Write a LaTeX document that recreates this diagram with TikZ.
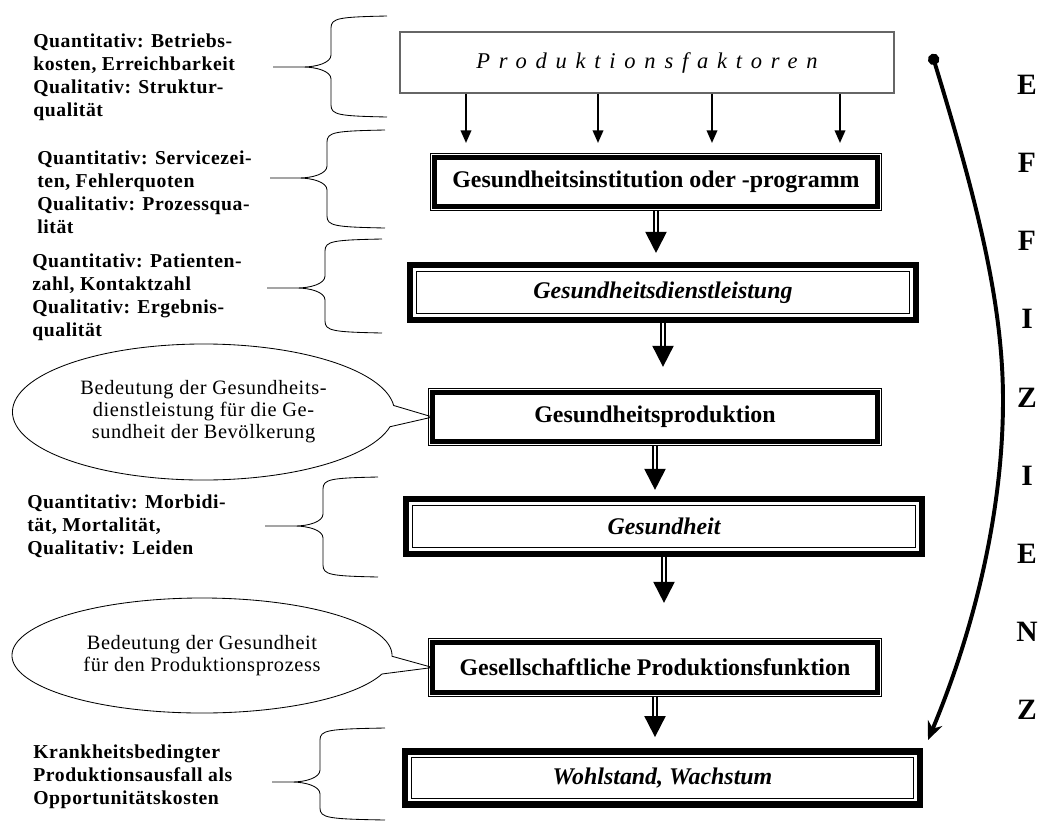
\documentclass[tikz,border=0pt]{standalone}
\usepackage{fontspec}
\setmainfont{Liberation Serif}
\newfontfamily\gesperrt[LetterSpace=39]{Liberation Serif}
\newfontfamily\linksschrift[LetterSpace=3]{Liberation Serif}
\usepackage{tikz}
\usetikzlibrary{arrows.meta,shapes.callouts,positioning}

\begin{document}
\begin{tikzpicture}[
    x=0.025cm, y=-0.025cm,
    faktor/.style={draw=black!60, line width=0.9pt, fill=white, inner sep=0pt,
        minimum width=12.35cm, minimum height=1.525cm,
        font=\gesperrt\itshape\fontsize{16}{18}\selectfont},
    stufe/.style={draw, line width=3.5pt, fill=white, inner sep=0pt, outer sep=0pt,
        preaction={draw, line width=6.6pt},
        preaction={draw=white, line width=5.2pt},
        font=\bfseries\fontsize{17}{19}\selectfont},
    ergebnis/.style={fill=white, inner sep=0pt, outer sep=0pt,
        preaction={draw, line width=11pt},
        postaction={draw, line width=3.8pt},
        postaction={draw=white, line width=1.8pt},
        font=\bfseries\itshape\fontsize{17}{19}\selectfont},
    kennzahl/.style={anchor=west, align=left, inner sep=0pt,
        font=\linksschrift\bfseries\fontsize{14}{16.4}\selectfont},
    erlaeuterung/.style={ellipse callout, draw, line width=0.6pt, align=center,
        inner sep=0pt, callout pointer arc=18,
        font=\linksschrift\fontsize{14.5}{15.6}\selectfont},
    klammer/.style={line width=0.6pt},
    einzelpfeil/.style={line width=1.4pt, -{Triangle[width=7.5pt,length=9pt]}},
    doppelpfeil/.style={double, double distance=1.5pt, line width=1.4pt,
        -{Triangle[width=15pt,length=15pt]}},
    bogen/.style={line width=2.8pt, {Circle[length=8pt]}-{Stealth[length=13pt,width=11pt]}},
    buchstabe/.style={font=\bfseries\fontsize{21}{23}\selectfont}
  ]

  \path[use as bounding box, fill=white] (0,0) rectangle (1040,823);

  % Kette der Stufen
  \node[faktor] (fak) at (647,62.5) {Produktionsfaktoren};
  \node[stufe, minimum width=11.07cm, minimum height=1.22cm] (inst) at (656,182) {Gesundheitsinstitution oder -programm};
  \node[ergebnis, minimum width=12.41cm, minimum height=1.14cm] (leist) at (663,292.5) {Gesundheitsdienstleistung};
  \node[stufe, minimum width=11.12cm, minimum height=1.22cm] (gprod) at (655,417) {Gesundheitsproduktion};
  \node[ergebnis, minimum width=12.66cm, minimum height=1.14cm] (gesund) at (664,526.5) {Gesundheit};
  \node[stufe, minimum width=11.12cm, minimum height=1.24cm] (gpf) at (655,667.5) {Gesellschaftliche Produktionsfunktion};
  \node[ergebnis, minimum width=12.64cm, minimum height=1.11cm] (wohl) at (662.5,778) {Wohlstand, Wachstum};

  % Pfeile
  \foreach \x in {466,598,712,840}
    \draw[einzelpfeil, shorten >=10.4pt] (\x,0 |- fak.south) -- (\x,0 |- inst.north);
  \draw[doppelpfeil, shorten <=3.3pt, shorten >=11.9pt] (inst.south) -- (inst.south |- leist.north);
  \draw[doppelpfeil, shorten <=5.5pt, shorten >=18.3pt] (leist.south) -- (leist.south |- gprod.north);
  \draw[doppelpfeil, shorten <=3.3pt, shorten >=9.8pt] (gprod.south) -- (gprod.south |- gesund.north);
  \draw[doppelpfeil, shorten <=5.5pt, shorten >=28.3pt] (gesund.south) -- (gesund.south |- gpf.north);
  \draw[doppelpfeil, shorten <=3.3pt, shorten >=13.3pt] (gpf.south) -- (gpf.south |- wohl.north);

  % Kennzahlen links
  \node[kennzahl] (k1) at (33,77) {Quantitativ: Betriebs-\\kosten, Erreichbarkeit\\Qualitativ: Struktur-\\qualität};
  \node[kennzahl] (k2) at (37,192) {Quantitativ: Servicezei-\\ten, Fehlerquoten\\Qualitativ: Prozessqua-\\lität};
  \node[kennzahl] (k3) at (32,297) {Quantitativ: Patienten-\\zahl, Kontaktzahl\\Qualitativ: Ergebnis-\\qualität};
  \node[kennzahl] (k4) at (27,526) {Quantitativ: Morbidi-\\tät, Mortalität,\\Qualitativ: Leiden};
  \node[kennzahl] (k5) at (33,777) {Krankheitsbedingter\\Produktionsausfall als\\Opportunitätskosten};

  % geschweifte Klammern
  \foreach \t/\m/\b/\r/\v/\l in {16/67/117/387/331/273, 130/178/228/385/327/270,
      239/288/333/382/325/267, 477/526/577/378/323/265, 728/782/820/385/320/272}
    \draw[klammer] (\r,\t) .. controls (\v+8,\t+1) and (\v,\t+2) .. (\v,\t+12)
      -- (\v,\m-12) .. controls (\v,\m-4) and (\v-15,\m) .. (\v-28,\m) -- (\l,\m)
      (\v-28,\m) .. controls (\v-15,\m) and (\v,\m+4) .. (\v,\m+12)
      -- (\v,\b-12) .. controls (\v,\b-2) and (\v+8,\b-1) .. (\r,\b);

  % Erlaeuterungen
  \node[erlaeuterung, minimum width=9.55cm, minimum height=3.4cm,
        callout absolute pointer={(gprod.west)}] (bed1) at (203.5,412)
        {Bedeutung der Gesundheits-\\dienstleistung für die Ge-\\sundheit der Bevölkerung};
  \node[erlaeuterung, minimum width=9.5cm, minimum height=2.875cm,
        callout absolute pointer={(gpf.west)}] (bed2) at (202,655.5)
        {Bedeutung der Gesundheit\\für den Produktionsprozess};

  % Effizienz
  \coordinate (bogenanfang) at (932,54);
  \coordinate (bogenende) at (928,740);
  \draw[bogen] (bogenanfang) .. controls (975,195) and (1003,300) .. (1003,400)
    .. controls (1003,520) and (970,640) .. (bogenende);
  \foreach \b [count=\i] in {E,F,F,I,Z,I,E,N,Z}
    \node[buchstabe] (b\i) at (1027,{85+78.1*(\i-1)}) {\b};

\end{tikzpicture}
\end{document}
